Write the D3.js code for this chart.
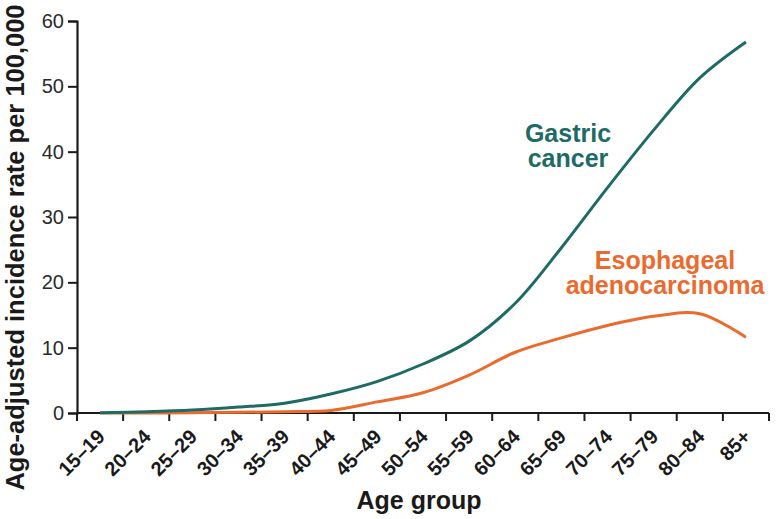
<!DOCTYPE html>
<html>
<head>
<meta charset="utf-8">
<script src="https://cdn.jsdelivr.net/npm/d3@7"></script>
<style>
  html, body { margin: 0; padding: 0; background: #ffffff; }
  svg { display: block; font-family: "Liberation Sans", Arial, sans-serif; }
</style>
</head>
<body>
<svg id="chart" width="779" height="519"></svg>
<script>
const ageGroups = ["15–19","20–24","25–29","30–34","35–39","40–44","45–49","50–54","55–59","60–64","65–69","70–74","75–79","80–84","85+"];
const gastric = [0.05, 0.2, 0.45, 0.9, 1.5, 2.9, 4.8, 7.5, 11.0, 16.8, 25.3, 34.5, 43.3, 51.3, 56.8];
const esophageal = [0, 0, 0.05, 0.1, 0.2, 0.4, 1.7, 3.1, 5.8, 9.3, 11.5, 13.4, 14.8, 15.2, 11.6];
const yTicks = [0, 10, 20, 30, 40, 50, 60];
const gastricLabel = ["Gastric", "cancer"];
const esophagealLabel = ["Esophageal", "adenocarcinoma"];
const xTitle = "Age group";
const yTitle = "Age-adjusted incidence rate per 100,000";

const teal = "#1e6b66";
const orange = "#ea6b2d";
const axisColor = "#1a1a1a";

const svg = d3.select("#chart");
const mLeft = 77, mRight = 769, mTop = 21, mBottom = 413;

const x = d3.scaleBand().domain(ageGroups).range([mLeft, mRight]).paddingInner(0).paddingOuter(0);
const y = d3.scaleLinear().domain([0, 60]).range([mBottom, mTop]);
const cx = d => x(d) + x.bandwidth() / 2;

// Y axis
const yAxis = svg.append("g").attr("transform", `translate(${mLeft},0)`)
  .call(d3.axisLeft(y).tickValues(yTicks).tickSize(9).tickPadding(4).tickFormat(d3.format("d")));
yAxis.select(".domain").attr("stroke", axisColor).attr("stroke-width", 2.2);
yAxis.selectAll(".tick line").attr("stroke", axisColor).attr("stroke-width", 2);
yAxis.selectAll(".tick text").attr("fill", "#2a2a2a").style("font-size", "20px").style("font-family", "Liberation Sans, Arial, sans-serif");

// X axis with ticks at band boundaries
const boundaries = ageGroups.map(d => x(d)).concat([mRight]);
const xg = svg.append("g");
xg.append("line").attr("x1", mLeft).attr("x2", mRight).attr("y1", mBottom).attr("y2", mBottom)
  .attr("stroke", axisColor).attr("stroke-width", 2.2);
xg.selectAll("line.tk").data(boundaries).join("line").attr("class", "tk")
  .attr("x1", d => d).attr("x2", d => d).attr("y1", mBottom).attr("y2", mBottom + 8)
  .attr("stroke", axisColor).attr("stroke-width", 2);
xg.selectAll("text.xl").data(ageGroups).join("text").attr("class", "xl")
  .attr("transform", d => `translate(${cx(d) + 6},${mBottom + 25}) rotate(-45)`)
  .attr("text-anchor", "end")
  .attr("fill", "#1a1a1a")
  .style("font-size", "20px").style("font-weight", "bold")
  .text(d => d);

// Lines
const line = d3.line().x((d, i) => cx(ageGroups[i])).y(d => y(d)).curve(d3.curveCatmullRom.alpha(0.5));
svg.append("path").datum(esophageal).attr("d", line).attr("fill", "none")
  .attr("stroke", orange).attr("stroke-width", 3);
svg.append("path").datum(gastric).attr("d", line).attr("fill", "none")
  .attr("stroke", teal).attr("stroke-width", 3);

// Series labels
gastricLabel.forEach((t, i) => svg.append("text").attr("x", 568).attr("y", 142 + i * 25)
  .attr("text-anchor", "middle").attr("fill", teal)
  .style("font-size", "25px").style("font-weight", "bold").text(t));
esophagealLabel.forEach((t, i) => svg.append("text").attr("x", 665).attr("y", 269 + i * 25)
  .attr("text-anchor", "middle").attr("fill", orange)
  .style("font-size", "25px").style("font-weight", "bold").text(t));

// Axis titles
svg.append("text").attr("x", (mLeft + mRight) / 2 - 4).attr("y", 509).attr("text-anchor", "middle")
  .attr("fill", "#1a1a1a").style("font-size", "25px").style("font-weight", "bold").text(xTitle);
svg.append("text").attr("transform", `translate(24,${(5 + 490) / 2}) rotate(-90)`).attr("text-anchor", "middle")
  .attr("fill", "#1a1a1a").style("font-size", "25.5px").style("font-weight", "bold").text(yTitle);
</script>
</body>
</html>
